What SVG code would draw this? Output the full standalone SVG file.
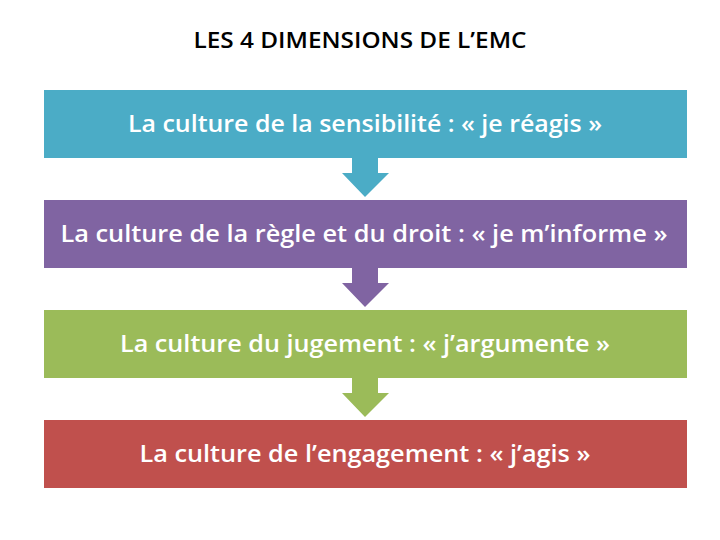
<svg xmlns="http://www.w3.org/2000/svg" width="720" height="540" viewBox="0 0 720 540">
<style>
.t{font-family:"Open Sans","Liberation Sans",sans-serif;font-size:24px;font-weight:600;fill:#fff;text-anchor:middle}
.title{font-family:"Open Sans","Liberation Sans",sans-serif;font-size:21px;font-weight:600;fill:#000;text-anchor:middle}
</style>
<rect width="720" height="540" fill="#fff"/>
<text class="title" x="360" y="48" textLength="333" lengthAdjust="spacingAndGlyphs">LES 4 DIMENSIONS DE L’EMC</text>
<g id="connectors">
<polygon points="352,158 378,158 378,173 389,173 365,197 342,173 352,173" fill="#4BACC6"/>
<polygon points="352,268 378,268 378,283 389,283 365,307 342,283 352,283" fill="#8064A2"/>
<polygon points="352,378 378,378 378,393 389,393 365,417 342,393 352,393" fill="#9BBB59"/>
</g>
<g id="n1"><rect x="44" y="90" width="643" height="68" fill="#4BACC6"/><text class="t" x="365" y="132" textLength="474" lengthAdjust="spacingAndGlyphs">La culture de la sensibilité : « je réagis »</text></g>
<g id="n2"><rect x="44" y="200" width="643" height="68" fill="#8064A2"/><text class="t" x="364" y="242" textLength="607" lengthAdjust="spacingAndGlyphs">La culture de la règle et du droit : « je m’informe  »</text></g>
<g id="n3"><rect x="44" y="310" width="643" height="68" fill="#9BBB59"/><text class="t" x="365" y="352" textLength="490" lengthAdjust="spacingAndGlyphs">La culture du jugement : « j’argumente »</text></g>
<g id="n4"><rect x="44" y="420" width="643" height="68" fill="#C0504D"/><text class="t" x="365" y="462" textLength="451" lengthAdjust="spacingAndGlyphs">La culture de l’engagement : « j’agis »</text></g>
</svg>
